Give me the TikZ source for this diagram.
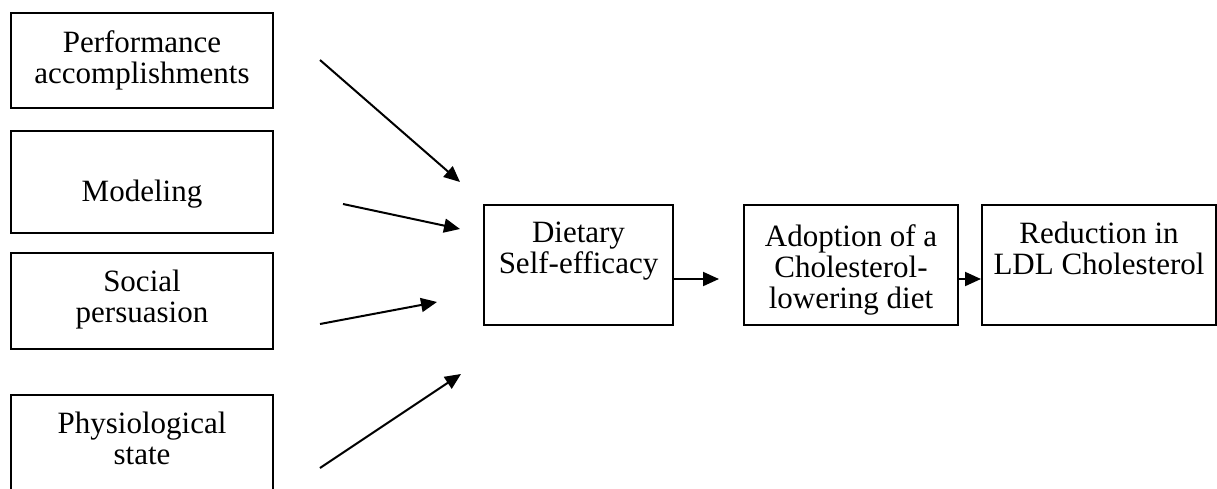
\documentclass[tikz,border=0pt]{standalone}
\usepackage{fontspec}
\setmainfont{Liberation Serif}
\usetikzlibrary{arrows.meta,positioning}

\begin{document}
\begin{tikzpicture}[x=0.5pt,y=-0.5pt,
	box/.style={draw,line width=1pt,inner sep=0pt},
	txt/.style={align=center,inner sep=0pt,font=\fontsize{15.5}{15.5}\selectfont},
	link/.style={->,line width=1pt},
	>={Triangle[length=8pt,width=7pt]}]
		\useasboundingbox (0,0) rectangle (1217,488);
		% sources of self-efficacy
		\node[box,minimum width=131pt,minimum height=47.5pt] (perf) at (142,60.5) {};
		\node[box,minimum width=131pt,minimum height=51pt] (model) at (142,182) {};
		\node[box,minimum width=131pt,minimum height=48pt] (social) at (142,301) {};
		\node[box,minimum width=131pt,minimum height=48pt] (phys) at (142,443) {};
		\node[txt,below=9pt of perf.north] (perf-t) {Performance\\accomplishments};
		\node[txt,below=25pt of model.north] (model-t) {Modeling};
		\node[txt,below=9pt of social.north] (social-t) {Social\\persuasion};
		\node[txt,below=9pt of phys.north] (phys-t) {Physiological\\state};
		% chain
		\node[box,minimum width=94.5pt,minimum height=60pt] (diet) at (578.5,265) {};
		\node[box,minimum width=107pt,minimum height=60pt] (adopt) at (851,265) {};
		\node[box,minimum width=117pt,minimum height=60pt] (ldl) at (1099,265) {};
		\node[txt,below=9pt of diet.north] (diet-t) {Dietary\\Self-efficacy};
		\node[txt,below=10pt of adopt.north] (adopt-t) {Adoption of a\\Cholesterol-\\lowering diet};
		\node[txt,below=9pt of ldl.north] (ldl-t) {Reduction in\\LDL Cholesterol};
		% free arrow ends
		\coordinate (a1s) at (320,60);  \coordinate (a1e) at (460,182);
		\coordinate (a2s) at (343,204); \coordinate (a2e) at (460,229);
		\coordinate (a3s) at (320,324); \coordinate (a3e) at (437,302);
		\coordinate (a4s) at (320,468); \coordinate (a4e) at (461,374);
		\draw[link] (a1s) -- (a1e);
		\draw[link] (a2s) -- (a2e);
		\draw[link] (a3s) -- (a3e);
		\draw[link] (a4s) -- (a4e);
		\draw[link,shorten >=12pt] ([yshift=-7pt]diet.east) -- ([yshift=-7pt]adopt.west);
		\draw[link] ([yshift=-7pt]adopt.east) -- ([yshift=-7pt]ldl.west);
	\end{tikzpicture}
\end{document}
